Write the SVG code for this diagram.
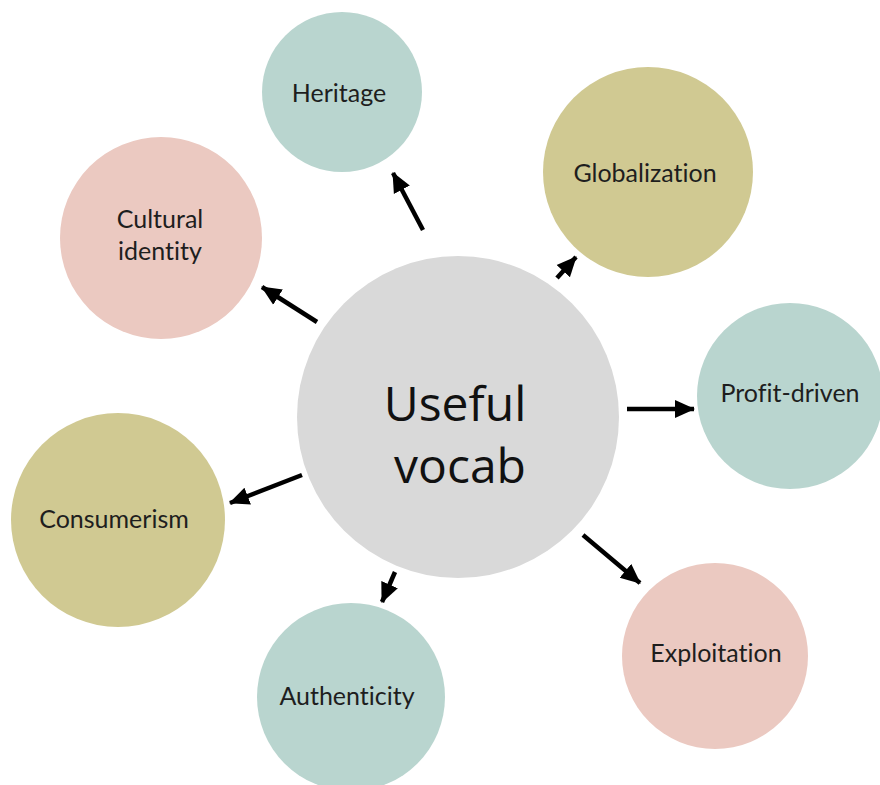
<svg xmlns="http://www.w3.org/2000/svg" width="880" height="785" viewBox="0 0 880 785">
<style>
.teal{fill:#b9d5cf}
.pink{fill:#ebc9c1}
.olive{fill:#d0c992}
.gray{fill:#d9d9d9}
.lbl{font-family:Lato,"Liberation Sans",sans-serif;font-size:25px;fill:#1e1e1e;text-anchor:middle;font-variant-ligatures:none}
.big{font-family:"Open Sans","Noto Sans",sans-serif;font-size:48px;fill:#111;text-anchor:middle}
.conn line{stroke:#000;stroke-width:4.5;marker-end:url(#ah)}
</style>
<defs>
<marker id="ah" markerUnits="userSpaceOnUse" viewBox="0 0 20 20" markerWidth="20" markerHeight="20" refX="19" refY="10" orient="auto">
<path d="M0,1 L20,10 L0,19 z" fill="#000"/>
</marker>
</defs>
<rect width="880" height="785" fill="#fff"/>
<g id="center">
<circle class="gray" cx="458" cy="417" r="161"/>
<text class="big" x="455" y="421">Useful</text>
<text class="big" x="460" y="483">vocab</text>
</g>
<g id="heritage">
<circle class="teal" cx="342" cy="92" r="80"/>
<text class="lbl" x="339" y="102">Heritage</text>
</g>
<g id="cultural-identity">
<circle class="pink" cx="161" cy="238" r="101"/>
<text class="lbl" x="160" y="228">Cultural</text>
<text class="lbl" x="160" y="260">identity</text>
</g>
<g id="globalization">
<circle class="olive" cx="648" cy="172" r="105"/>
<text class="lbl" x="645" y="182">Globalization</text>
</g>
<g id="profit-driven">
<circle class="teal" cx="790" cy="396" r="93"/>
<text class="lbl" x="790" y="402">Profit-driven</text>
</g>
<g id="consumerism">
<circle class="olive" cx="118" cy="520" r="107"/>
<text class="lbl" x="114" y="528">Consumerism</text>
</g>
<g id="authenticity">
<circle class="teal" cx="351" cy="697" r="94"/>
<text class="lbl" x="347" y="705">Authenticity</text>
</g>
<g id="exploitation">
<circle class="pink" cx="715" cy="656" r="93"/>
<text class="lbl" x="716" y="662">Exploitation</text>
</g>
<g id="connectors" class="conn">
<line x1="423" y1="230" x2="393" y2="173"/>
<line x1="317" y1="322" x2="262" y2="287"/>
<line x1="557" y1="278" x2="576" y2="257"/>
<line x1="627" y1="409" x2="694" y2="409"/>
<line x1="583" y1="535" x2="640" y2="583"/>
<line x1="395" y1="572" x2="382" y2="602"/>
<line x1="302" y1="475" x2="230" y2="503"/>
</g>
</svg>
